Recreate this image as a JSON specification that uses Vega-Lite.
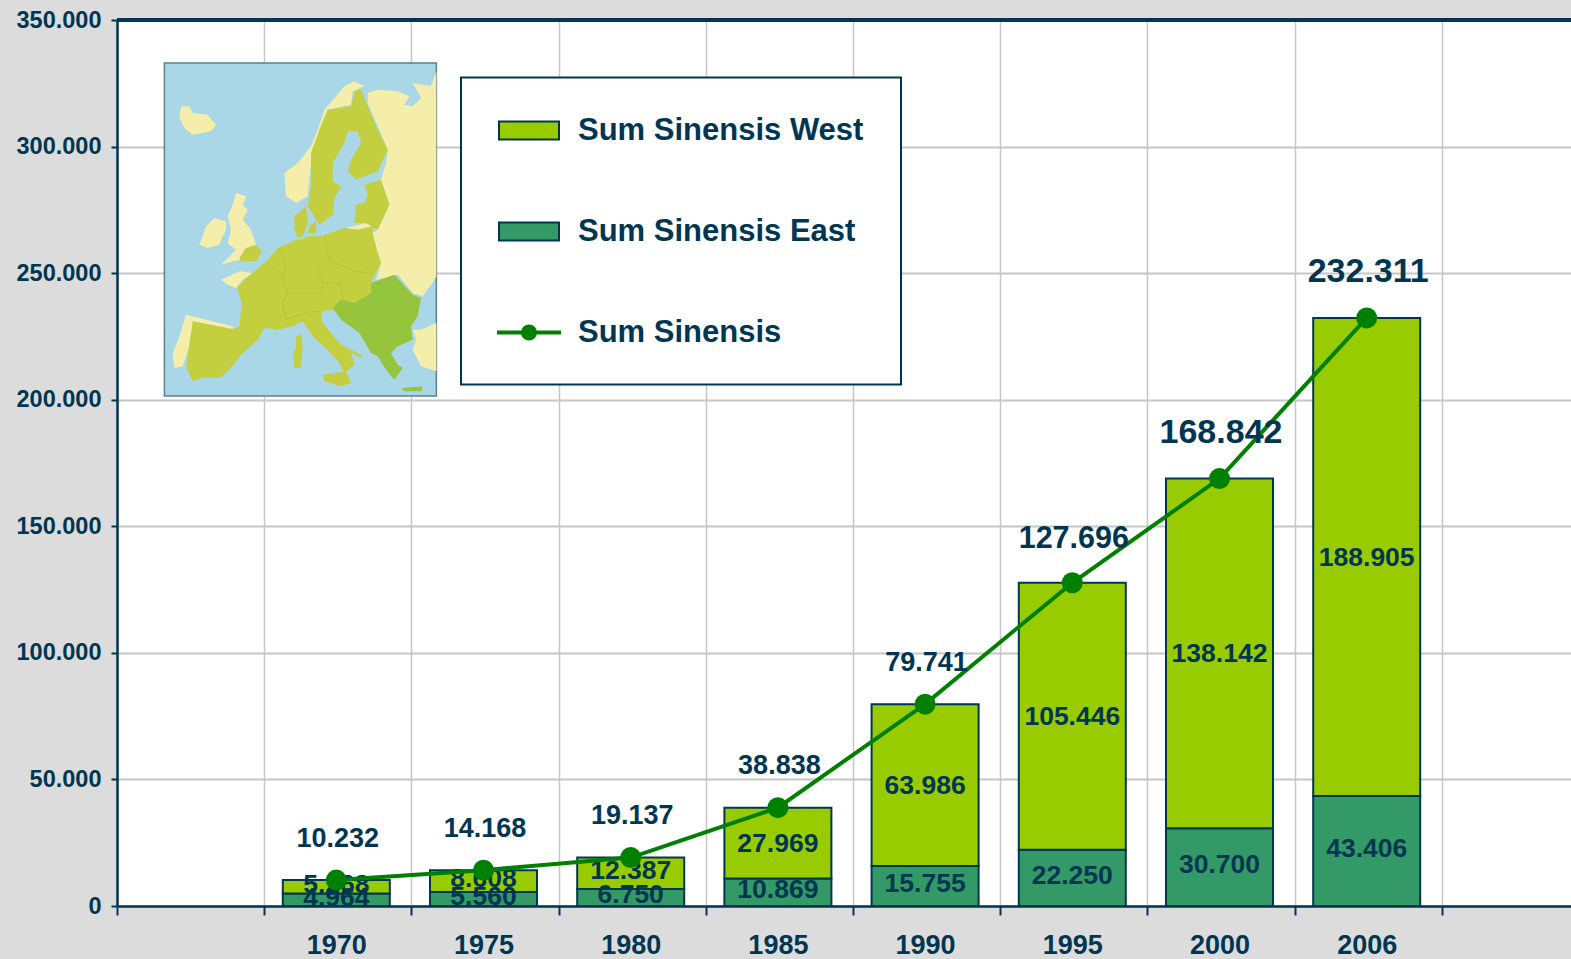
{
"$schema":"https://vega.github.io/schema/vega-lite/v6.json",
"width":1454,"height":886,
"autosize":{"type":"none"},
"padding":{"left":117,"top":20,"right":0,"bottom":53},
"background":"#dcdcdc",
"view":{"fill":"#ffffff","stroke":null},
"config":{"font":"Liberation Sans","legend":{"strokeWidth":2}},
"datasets":{
"rows":[
{"year":"1970","series":"Sum Sinensis East","value":4964},{"year":"1970","series":"Sum Sinensis West","value":5268},{"year":"1970","series":"Sum Sinensis","value":10232},
{"year":"1975","series":"Sum Sinensis East","value":5560},{"year":"1975","series":"Sum Sinensis West","value":8608},{"year":"1975","series":"Sum Sinensis","value":14168},
{"year":"1980","series":"Sum Sinensis East","value":6750},{"year":"1980","series":"Sum Sinensis West","value":12387},{"year":"1980","series":"Sum Sinensis","value":19137},
{"year":"1985","series":"Sum Sinensis East","value":10869},{"year":"1985","series":"Sum Sinensis West","value":27969},{"year":"1985","series":"Sum Sinensis","value":38838},
{"year":"1990","series":"Sum Sinensis East","value":15755},{"year":"1990","series":"Sum Sinensis West","value":63986},{"year":"1990","series":"Sum Sinensis","value":79741},
{"year":"1995","series":"Sum Sinensis East","value":22250},{"year":"1995","series":"Sum Sinensis West","value":105446},{"year":"1995","series":"Sum Sinensis","value":127696},
{"year":"2000","series":"Sum Sinensis East","value":30700},{"year":"2000","series":"Sum Sinensis West","value":138142},{"year":"2000","series":"Sum Sinensis","value":168842},
{"year":"2006","series":"Sum Sinensis East","value":43406},{"year":"2006","series":"Sum Sinensis West","value":188905},{"year":"2006","series":"Sum Sinensis","value":232311}
],
"map":[
{"type":"Feature","properties":{"kind":"sea"},"geometry":{"type":"Polygon","coordinates":[[[0,0],[816,0],[816,999],[0,999],[0,0]]]}},
{"type":"Feature","properties":{"kind":"cream"},"geometry":{"type":"MultiPolygon","coordinates":[
[[[816,25],[800,70],[775,65],[745,60],[770,105],[745,130],[720,125],[735,100],[700,85],[640,80],[610,90],[610,120],[640,190],[670,260],[665,300],[650,350],[675,425],[640,500],[625,510],[640,570],[650,600],[635,650],[700,635],[745,690],[775,700],[810,650],[816,640],[816,25]]],
[[[600,70],[570,55],[540,70],[515,100],[480,140],[460,200],[440,250],[400,300],[360,330],[365,400],[395,420],[430,400],[440,300],[465,200],[490,140],[560,125],[565,85],[600,70]]],
[[[50,130],[75,130],[85,150],[130,155],[155,185],[140,205],[85,215],[60,195],[45,165],[50,130]]],
[[[105,545],[125,490],[150,465],[185,475],[185,500],[170,530],[165,545],[130,555],[105,545]]],
[[[215,390],[245,400],[235,425],[250,440],[235,470],[260,500],[275,545],[240,560],[225,590],[170,605],[200,575],[215,560],[190,540],[200,500],[190,460],[205,425],[215,390]]],
[[[65,755],[205,790],[205,800],[85,775],[85,810],[75,850],[55,910],[30,915],[25,870],[45,820],[65,755]]],
[[[170,650],[225,625],[265,630],[235,650],[215,675],[190,665],[170,650]]],
[[[816,780],[770,800],[745,800],[755,830],[745,860],[770,910],[816,925],[816,780]]],
[[[545,495],[605,480],[625,490],[580,500],[545,495]]]
]}},
{"type":"Feature","properties":{"kind":"eu"},"geometry":{"type":"MultiPolygon","coordinates":[
[[[65,910],[85,775],[205,798],[225,790],[232,720],[218,675],[240,650],[270,625],[310,590],[340,555],[395,530],[410,530],[430,520],[470,520],[495,510],[540,495],[580,500],[625,490],[625,515],[640,570],[650,600],[630,640],[620,660],[620,690],[570,720],[530,710],[510,740],[470,745],[475,780],[530,845],[590,875],[595,885],[560,870],[570,905],[540,930],[525,900],[490,860],[445,820],[415,775],[385,790],[340,800],[300,795],[280,830],[230,875],[195,920],[165,945],[110,945],[85,955],[65,910]]],
[[[475,935],[545,925],[560,960],[530,970],[480,955],[475,935]]],
[[[395,820],[412,815],[415,860],[408,915],[390,915],[385,870],[395,855],[395,820]]],
[[[560,130],[490,140],[465,200],[440,270],[440,370],[430,430],[465,485],[505,455],[510,405],[530,370],[505,355],[505,300],[540,240],[550,205],[580,205],[590,240],[560,290],[550,325],[575,350],[640,325],[670,260],[635,190],[610,130],[590,80],[570,85],[565,110],[560,130]]],
[[[600,365],[650,350],[675,425],[640,500],[605,480],[570,480],[575,425],[600,420],[610,395],[600,365]]],
[[[390,460],[425,430],[430,480],[415,520],[400,525],[390,495],[390,460]]],
[[[435,490],[455,475],[455,510],[430,510],[435,490]]],
[[[245,555],[275,545],[292,565],[275,595],[230,595],[225,585],[245,555]]]
]}},
{"type":"Feature","properties":{"kind":"east"},"geometry":{"type":"MultiPolygon","coordinates":[
[[[620,660],[690,635],[745,695],[770,705],[760,760],[740,790],[745,830],[700,850],[680,870],[700,905],[715,915],[690,950],[665,920],[640,880],[620,870],[585,810],[530,770],[505,735],[530,710],[570,720],[620,690],[620,660]]],
[[[710,975],[775,970],[770,985],[720,985],[710,975]]]
]}},
{"type":"Feature","properties":{"kind":"border"},"geometry":{"type":"MultiLineString","coordinates":[
[[310,600],[355,650],[370,690],[355,720],[365,770]],
[[340,555],[365,600],[355,650]],
[[480,520],[495,590],[460,620],[475,660],[530,660]],
[[495,590],[570,625],[625,630]],
[[530,660],[535,710]],
[[370,690],[470,690],[475,660]],
[[365,770],[440,745],[470,745]],
[[520,745],[590,740],[660,770],[760,760]],
[[620,800],[660,770]],
[[620,870],[700,850]]
]}}
]
},
"data":{"name":"rows"},
"transform":[{"calculate":"replace(format(datum.value,','),',','.')","as":"label"}],
"encoding":{
"x":{"field":"year","type":"nominal","title":null,"sort":null,
 "scale":{"domain":["a","1970","1975","1980","1985","1990","1995","2000","2006","z"],"range":[0,1472],"paddingInner":0,"paddingOuter":0},
 "axis":{"tickBand":"extent","grid":true,"gridColor":"#c6c6c6","gridWidth":1.5,"domainColor":"#003652","domainWidth":2.5,"tickColor":"#003652","tickWidth":2,"tickSize":9,"labelAngle":0,"labelFontSize":27,"labelFontWeight":"bold","labelColor":"#003652","labelPadding":17,"labelOffset":-1.5,"labelExpr":"datum.label=='a'||datum.label=='z'?'':datum.label"}}
},
"layer":[
{"transform":[{"filter":"datum.series!='Sum Sinensis'"}],
 "mark":{"type":"bar","size":107,"xOffset":-1.5,"strokeWidth":2},
 "encoding":{
  "y":{"field":"value","type":"quantitative","stack":"zero","title":null,
   "scale":{"domain":[0,350000],"nice":false},
   "axis":{"values":[0,50000,100000,150000,200000,250000,300000,350000],"grid":true,"gridColor":"#c6c6c6","gridWidth":2,"domainColor":"#003652","domainWidth":2.5,"tickColor":"#003652","tickWidth":2,"tickSize":6,"labelFontSize":23.5,"labelFontWeight":"bold","labelColor":"#003652","labelPadding":10,"labelExpr":"replace(format(datum.value,','),',','.')"}},
  "order":{"field":"series"},
  "fill":{"field":"series","type":"nominal","scale":{"domain":["Sum Sinensis West","Sum Sinensis East","Sum Sinensis"],"range":["#99cc00","#339966","#008000"]}},
  "stroke":{"field":"series","type":"nominal","scale":{"domain":["Sum Sinensis West","Sum Sinensis East","Sum Sinensis"],"range":["#003652","#003652","#008000"]}}
 }},
{"transform":[{"filter":"datum.series!='Sum Sinensis'"}],
 "mark":{"type":"text","fontSize":26.5,"fontWeight":"bold","color":"#003652","xOffset":-1.5,"dy":-2,"baseline":"middle"},
 "encoding":{
  "y":{"field":"value","type":"quantitative","stack":"zero","bandPosition":0.5},
  "order":{"field":"series"},
  "detail":{"field":"series"},
  "text":{"field":"label","condition":{"test":"datum.series=='Sum Sinensis West' && datum.value>20000","value":""}}
 }},
{"transform":[{"filter":"datum.series!='Sum Sinensis'"}],
 "mark":{"type":"text","fontSize":26.5,"fontWeight":"bold","color":"#003652","xOffset":-1.5,"dy":1,"baseline":"middle"},
 "encoding":{
  "y":{"field":"value","type":"quantitative","stack":"zero","bandPosition":0.5},
  "order":{"field":"series"},
  "detail":{"field":"series"},
  "text":{"condition":{"test":"datum.series=='Sum Sinensis West' && datum.value>20000","field":"label"},"value":""}
 }},
{"data":{"name":"map"},"transform":[{"filter":"datum.properties.kind=='sea'"}],"encoding":{},
 "mark":{"type":"geoshape","fill":"#a9d7e8","stroke":"#5f7f88","strokeWidth":1.5},
 "projection":{"type":"identity","scale":0.3333,"translate":[47.4,43]}},
{"data":{"name":"map"},"transform":[{"filter":"datum.properties.kind=='cream'"}],"encoding":{},
 "mark":{"type":"geoshape","fill":"#f5eeab","stroke":null},
 "projection":{"type":"identity","scale":0.3333,"translate":[47.4,43]}},
{"data":{"name":"map"},"transform":[{"filter":"datum.properties.kind=='eu'"}],"encoding":{},
 "mark":{"type":"geoshape","fill":"#c3cf3f","stroke":null},
 "projection":{"type":"identity","scale":0.3333,"translate":[47.4,43]}},
{"data":{"name":"map"},"transform":[{"filter":"datum.properties.kind=='east'"}],"encoding":{},
 "mark":{"type":"geoshape","fill":"#95c53c","stroke":null},
 "projection":{"type":"identity","scale":0.3333,"translate":[47.4,43]}},
{"data":{"name":"map"},"transform":[{"filter":"datum.properties.kind=='border'"}],"encoding":{},
 "mark":{"type":"geoshape","filled":false,"stroke":"#b2c03e","strokeWidth":0.8},
 "projection":{"type":"identity","scale":0.3333,"translate":[47.4,43]}},
{"mark":{"type":"rule","color":"#003652","strokeWidth":2.5},"encoding":{"x":{},"y":{"datum":350000}}},
{"transform":[{"filter":"datum.series=='Sum Sinensis'"}],
 "mark":{"type":"line","color":"#008000","strokeWidth":4,"xOffset":-1.5},
 "encoding":{"y":{"field":"value","type":"quantitative"}}},
{"transform":[{"filter":"datum.series=='Sum Sinensis'"}],
 "mark":{"type":"circle","color":"#008000","size":441,"opacity":1,"xOffset":-1.5},
 "encoding":{"y":{"field":"value","type":"quantitative"}}},
{"transform":[{"filter":"datum.series=='Sum Sinensis' && datum.value<100000"}],
 "mark":{"type":"text","fontSize":27,"fontWeight":"bold","color":"#003652","dy":-41.5,"baseline":"middle"},
 "encoding":{"y":{"field":"value","type":"quantitative"},"text":{"field":"label"}}},
{"transform":[{"filter":"datum.series=='Sum Sinensis' && datum.value>100000 && datum.value<150000"}],
 "mark":{"type":"text","fontSize":30.5,"fontWeight":"bold","color":"#003652","dy":-44,"baseline":"middle"},
 "encoding":{"y":{"field":"value","type":"quantitative"},"text":{"field":"label"}}},
{"transform":[{"filter":"datum.series=='Sum Sinensis' && datum.value>150000"}],
 "mark":{"type":"text","fontSize":34,"fontWeight":"bold","color":"#003652","dy":-45.5,"baseline":"middle"},
 "encoding":{"y":{"field":"value","type":"quantitative"},"text":{"field":"label"}}},
{"mark":{"type":"point","filled":true,"size":0,"opacity":0},
 "encoding":{
  "y":{"field":"value","type":"quantitative","stack":null},
  "fill":{"field":"series","type":"nominal"},
  "stroke":{"field":"series","type":"nominal"},
  "shape":{"field":"series","type":"nominal",
   "scale":{"domain":["Sum Sinensis West","Sum Sinensis East","Sum Sinensis"],"range":["M-1,-0.6H3V0.6H-1Z","M-1,-0.6H3V0.6H-1Z","M-1.07,-0.07H3.07V0.07H-1.07Z M0.533,0A0.467,0.467 0 1 0 1.467,0A0.467,0.467 0 1 0 0.533,0Z"]},
   "legend":{"title":null,"orient":"none","legendX":344,"legendY":57.5,"padding":37,"fillColor":"#ffffff","strokeColor":"#003652","symbolSize":900,"symbolStrokeWidth":2,"symbolOpacity":1,"labelFontSize":31,"labelFontWeight":"bold","labelColor":"#003652","labelLimit":400,"labelOffset":48,"rowPadding":70,"values":["Sum Sinensis West","Sum Sinensis East","Sum Sinensis"]}}
 }}
]
}
